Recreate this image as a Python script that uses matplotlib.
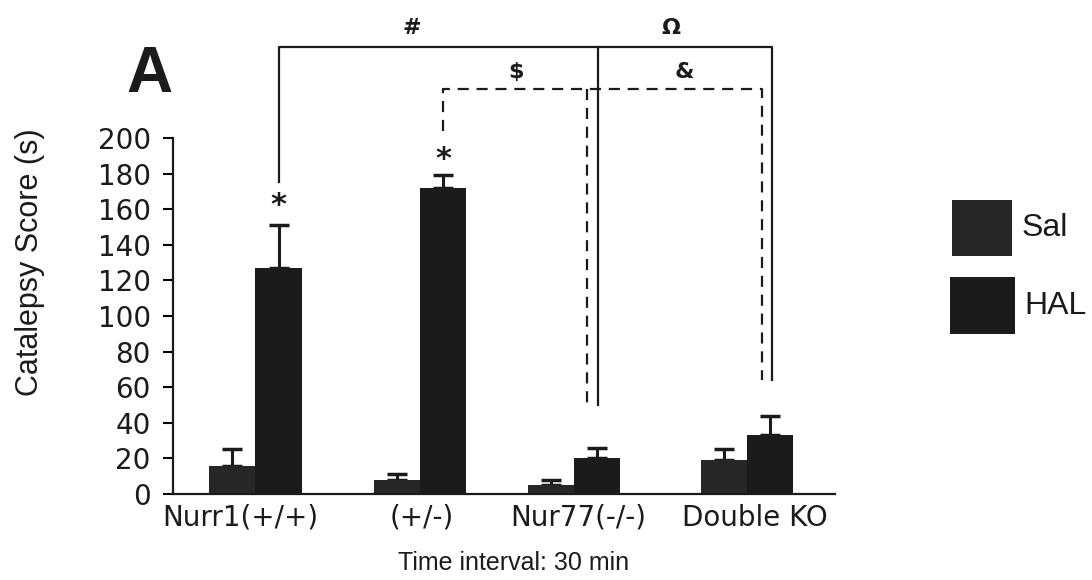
import numpy as np
import matplotlib.pyplot as plt
from matplotlib.patches import Rectangle

# data
groups = ['Nurr1(+/+)', '(+/-)', 'Nur77(-/-)', 'Double KO']
series = ['Sal', 'HAL']
sal_mean = [16, 8, 5, 19]
sal_err = [9, 3, 3, 6]
hal_mean = [127, 172, 20, 33]
hal_err = [24, 7, 6, 11]
y_ticks = [0, 20, 40, 60, 80, 100, 120, 140, 160, 180, 200]

# group centres (the original spacing is slightly uneven)
pos = np.array([0.0, 1.0, 1.93, 2.98])
label_pos = np.array([-0.09, 1.01, 1.96, 3.03])
w = 0.28
ink = '#1b1b1b'
sal_col = '#262626'

fig = plt.figure(figsize=(10.92, 5.80), dpi=100)
ax = fig.add_axes([0.1584, 0.1483, 0.6063, 0.6138])

ax.bar(pos - w / 2, sal_mean, w, color=sal_col, zorder=2)
ax.bar(pos + w / 2, hal_mean, w, color=ink, zorder=2)
ax.errorbar(pos - w / 2, sal_mean, yerr=[np.zeros(4), sal_err], fmt='none',
            ecolor=ink, elinewidth=2.2, capsize=7, capthick=2.5, zorder=1)
ax.errorbar(pos + w / 2, hal_mean, yerr=[np.zeros(4), hal_err], fmt='none',
            ecolor=ink, elinewidth=2.2, capsize=7, capthick=2.5, zorder=1)

ax.set_xlim(-0.5, 3.515)
ax.set_ylim(0, 200)
ax.set_yticks(y_ticks)
ax.set_xticks(label_pos)
ax.set_xticklabels(groups)
for s in ['top', 'right']:
    ax.spines[s].set_visible(False)
for s in ['left', 'bottom']:
    ax.spines[s].set_linewidth(1.6)
    ax.spines[s].set_color(ink)
ax.tick_params(axis='y', direction='out', length=7, width=1.5, labelsize=20, pad=9)
ax.tick_params(axis='x', length=0, labelsize=20, pad=7)
for t in ax.get_xticklabels() + ax.get_yticklabels():
    t.set_fontfamily('DejaVu Sans')
    t.set_color(ink)

ax.set_ylabel('Catalepsy Score (s)', fontsize=22, family='Liberation Sans', color=ink)
ax.yaxis.set_label_coords(-0.216, 0.652)
ax.set_xlabel('Time interval: 30 min', fontsize=18, family='Liberation Sans', color=ink)
ax.xaxis.set_label_coords(0.515, -0.194)
ax.xaxis.label.set_va('center')
ax.yaxis.label.set_va('center')

# significance markers
hal_x = pos + w / 2
ax.text(hal_x[0], 162, '*', ha='center', va='center', fontsize=22, fontweight='bold', color=ink)
ax.text(hal_x[1], 188, '*', ha='center', va='center', fontsize=22, fontweight='bold', color=ink)

# solid bracket
kw = dict(color=ink, lw=1.6, clip_on=False)
ax.plot([hal_x[0], hal_x[0], hal_x[3] + 0.01, hal_x[3] + 0.01], [175, 251, 251, 64], **kw)
ax.plot([hal_x[2] + 0.01, hal_x[2] + 0.01], [251, 50], **kw)
ax.text(0.95, 262, '#', ha='center', va='center', fontsize=16, fontweight='bold', color=ink)
ax.text(2.52, 262, 'Ω', ha='center', va='center', fontsize=16, fontweight='bold', color=ink)

# dashed bracket
kd = dict(color=ink, lw=1.6, ls=(0, (5, 3.5)), clip_on=False)
ax.plot([hal_x[1], hal_x[1], hal_x[3] - 0.05, hal_x[3] - 0.05], [204, 227.5, 227.5, 64], **kd)
ax.plot([hal_x[2] - 0.06, hal_x[2] - 0.06], [227.5, 50], **kd)
ax.text(1.58, 237, '$', ha='center', va='center', fontsize=16, fontweight='bold', color=ink)
ax.text(2.6, 237, '&', ha='center', va='center', fontsize=16, fontweight='bold', color=ink)

fig.text(0.137, 0.87, 'A', fontsize=46, fontweight='bold', family='Liberation Sans',
         ha='center', va='center', color=ink)

# legend, drawn by hand to sit where the original has it
boxes = [(0.8718, 0.5586, 0.0549, 0.0966), (0.8700, 0.4241, 0.0595, 0.0983)]
for (x0, y0, bw, bh), name, col in zip(boxes, series, [sal_col, ink]):
    fig.patches.append(Rectangle((x0, y0), bw, bh, transform=fig.transFigure,
                                 facecolor=col, edgecolor='none'))
    fig.text(x0 + bw + 0.009, y0 + bh / 2, name, fontsize=23, family='Liberation Sans',
             ha='left', va='center', color=ink)

fig.savefig('out.png', dpi=100)
